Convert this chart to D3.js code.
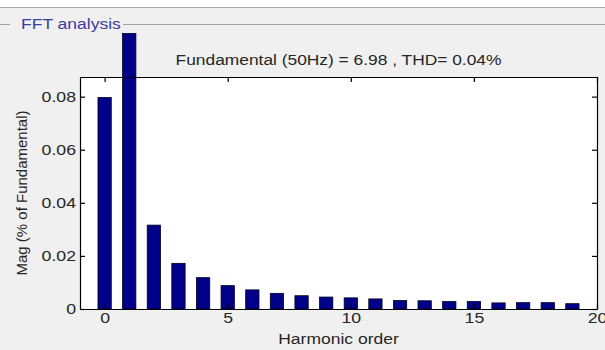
<!DOCTYPE html>
<html>
<head>
<meta charset="utf-8">
<script src="https://cdn.jsdelivr.net/npm/d3@7"></script>
<style>
  html, body { margin: 0; padding: 0; background: #f0f0f0; }
  svg { display: block; font-family: "Liberation Sans", Arial, sans-serif; }
</style>
</head>
<body>
<svg id="chart" width="605" height="350"></svg>
<script>
// harmonic orders and magnitudes (% of fundamental)
const orders = d3.range(0, 20);
const mags = [0.0797, 0.1038, 0.0316, 0.0172, 0.0118, 0.0088, 0.0072, 0.0059, 0.0050, 0.0045,
              0.0042, 0.0038, 0.0032, 0.0031, 0.0028, 0.0028, 0.0023, 0.0024, 0.0024, 0.0020];
const xTicks = [0, 5, 10, 15, 20];
const yTicks = [0, 0.02, 0.04, 0.06, 0.08];
const yTickLabels = ["0", "0.02", "0.04", "0.06", "0.08"];

const panelTitle = "FFT analysis";
const plotTitle = "Fundamental (50Hz) = 6.98 , THD= 0.04%";
const xLabel = "Harmonic order";
const yLabel = "Mag (% of Fundamental)";

const svg = d3.select("#chart");
const W = 605, H = 350;
const pLeft = 80, pRight = 597, pTop = 77, pBottom = 309;
const textCol = "#262626";

// the screenshot is a bit wide, so horizontal text gets stretched
function widen(sel, f) {
  sel.each(function () {
    const len = this.getComputedTextLength();
    d3.select(this).attr("textLength", len * f).attr("lengthAdjust", "spacingAndGlyphs");
  });
}

// panel background
svg.append("rect").attr("width", W).attr("height", 7).attr("fill", "#ffffff");
svg.append("line").attr("x1", 0).attr("x2", W).attr("y1", 7.5).attr("y2", 7.5)
  .attr("stroke", "#a8a8a8");
svg.append("line").attr("x1", 0).attr("x2", 10).attr("y1", 24.5).attr("y2", 24.5)
  .attr("stroke", "#a0a0a0");
svg.append("line").attr("x1", 123).attr("x2", W).attr("y1", 24.5).attr("y2", 24.5)
  .attr("stroke", "#a0a0a0");
svg.append("text").attr("x", 21).attr("y", 29)
  .attr("font-size", 14).attr("fill", "#3c3ca0").text(panelTitle)
  .call(widen, 1.25);

const x = d3.scaleLinear().domain([-1, 20]).range([pLeft, pRight]);
const y = d3.scaleLinear().domain([0, 0.0874]).range([pBottom, pTop]);

// plot area
svg.append("rect").attr("x", pLeft).attr("y", pTop)
  .attr("width", pRight - pLeft).attr("height", pBottom - pTop).attr("fill", "#ffffff");

const bw = x(0.54) - x(0);

svg.selectAll("rect.bar")
  .data(orders)
  .enter()
  .append("rect")
  .attr("class", "bar")
  .attr("x", d => x(d) - bw / 2)
  .attr("y", (d, i) => y(mags[i]))
  .attr("width", bw)
  .attr("height", (d, i) => y(0) - y(mags[i]))
  .attr("fill", "#000088")
  .attr("stroke", "#000020")
  .attr("stroke-width", 0.8);

// axes (ticks point inward, like matlab)
const gx = svg.append("g")
  .attr("transform", "translate(0," + pBottom + ")")
  .call(d3.axisBottom(x).tickValues(xTicks).tickSizeInner(-5).tickSizeOuter(0).tickPadding(4));
const gxTop = svg.append("g")
  .attr("transform", "translate(0," + pTop + ")")
  .call(d3.axisTop(x).tickValues(xTicks).tickSizeInner(-5).tickSizeOuter(0).tickFormat(""));
const gy = svg.append("g")
  .attr("transform", "translate(" + pLeft + ",0)")
  .call(d3.axisLeft(y).tickValues(yTicks).tickSizeInner(-5).tickSizeOuter(0).tickPadding(4)
    .tickFormat((d, i) => yTickLabels[i]));
const gyRight = svg.append("g")
  .attr("transform", "translate(" + pRight + ",0)")
  .call(d3.axisRight(y).tickValues(yTicks).tickSizeInner(-5).tickSizeOuter(0).tickFormat(""));

[gx, gxTop, gy, gyRight].forEach(g => {
  g.selectAll("path, line").attr("stroke", "#000").attr("stroke-width", 1.2);
  g.selectAll("text").attr("font-size", 14.5).attr("fill", textCol)
    .attr("font-family", "Liberation Sans, Arial, sans-serif")
    .call(widen, 1.22);
});

// titles
svg.append("text").attr("x", (pLeft + pRight) / 2).attr("y", 65)
  .attr("text-anchor", "middle").attr("font-size", 14).attr("fill", textCol).text(plotTitle)
  .call(widen, 1.24);
svg.append("text").attr("x", (pLeft + pRight) / 2).attr("y", 344)
  .attr("text-anchor", "middle").attr("font-size", 14).attr("fill", textCol).text(xLabel)
  .call(widen, 1.25);
svg.append("text")
  .attr("transform", "translate(27," + (pTop + pBottom) / 2 + ") rotate(-90)")
  .attr("text-anchor", "middle").attr("font-size", 15).attr("fill", textCol).text(yLabel);
</script>
</body>
</html>
